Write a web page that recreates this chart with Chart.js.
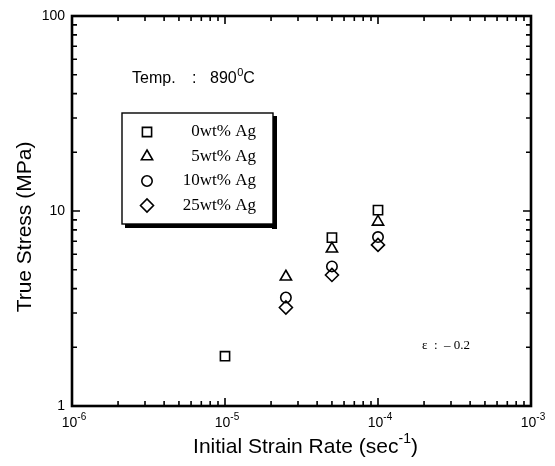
<!DOCTYPE html>
<html>
<head>
<meta charset="utf-8">
<script src="https://cdn.jsdelivr.net/npm/chart.js@4/dist/chart.umd.min.js"></script>
<style>
  html, body { margin: 0; padding: 0; background: #fff; }
  #wrap { width: 555px; height: 466px; }
</style>
</head>
<body>
<div id="wrap"><canvas id="c" width="555" height="466"></canvas></div>
<script>
// ---- data ----
const seriesLabels = ['0wt% Ag', '5wt% Ag', '10wt% Ag', '25wt% Ag'];
const rates0  = [1e-5, 5e-5, 1e-4];
const stress0 = [1.8, 7.3, 10.1];
const rates5  = [2.5e-5, 5e-5, 1e-4];
const stress5 = [4.6, 6.4, 8.8];
const rates10  = [2.5e-5, 5e-5, 1e-4];
const stress10 = [3.6, 5.2, 7.35];
const rates25  = [2.5e-5, 5e-5, 1e-4];
const stress25 = [3.2, 4.7, 6.7];

const xTickValues = [1e-6, 1e-5, 1e-4, 1e-3];
const xTickExponents = ['-6', '-5', '-4', '-3'];
const yTickValues = [1, 10, 100];
const yTickLabels = ['1', '10', '100'];

const toPts = (xs, ys) => xs.map((v, i) => ({ x: v, y: ys[i] }));

const styles = [
  { pointStyle: 'rect', radius: 6.5 },
  { pointStyle: 'triangle', radius: 6.5 },
  { pointStyle: 'circle', radius: 5.2 },
  { pointStyle: 'rectRot', radius: 6.5 }
];
const allData = [toPts(rates0, stress0), toPts(rates5, stress5), toPts(rates10, stress10), toPts(rates25, stress25)];

const datasets = allData.map((d, i) => ({
  label: seriesLabels[i],
  data: d,
  showLine: false,
  pointStyle: styles[i].pointStyle,
  pointRadius: styles[i].radius,
  pointHoverRadius: styles[i].radius,
  pointBorderWidth: 1.6,
  pointBorderColor: '#000',
  pointBackgroundColor: 'rgba(255,255,255,0)',
  borderColor: '#000',
  backgroundColor: 'rgba(255,255,255,0)'
}));

const SANS = '"Liberation Sans", Arial, sans-serif';
const SERIF = '"Liberation Serif", "Times New Roman", serif';

function drawSup(ctx, parts, x, y, align) {
  let total = 0;
  parts.forEach(p => { ctx.font = p.size + 'px ' + (p.font || SANS); p.w = ctx.measureText(p.t).width; total += p.w; });
  let cx = align === 'center' ? x - total / 2 : (align === 'right' ? x - total : x);
  ctx.textAlign = 'left';
  parts.forEach(p => {
    ctx.font = p.size + 'px ' + (p.font || SANS);
    ctx.fillText(p.t, cx, y + (p.dy || 0));
    cx += p.w;
  });
}

const inkPlugin = {
  id: 'ink',
  afterDatasetsDraw(chart) {
    const { ctx, chartArea: a, scales } = chart;
    const xs = scales.x, ys = scales.y;
    ctx.save();
    ctx.fillStyle = '#000';
    ctx.strokeStyle = '#000';

    // frame
    ctx.lineWidth = 2.6;
    ctx.strokeRect(a.left, a.top, a.right - a.left, a.bottom - a.top);

    // tick marks (inside, on all four sides)
    ctx.lineWidth = 1.6;
    const xMin = Math.log10(xs.min), xMax = Math.log10(xs.max);
    for (let e = Math.round(xMin); e <= Math.round(xMax); e++) {
      for (let m = 1; m <= 9; m++) {
        const v = m * Math.pow(10, e);
        if (v < xs.min * 0.999 || v > xs.max * 1.001) continue;
        const px = xs.getPixelForValue(v);
        const len = m === 1 ? 8 : 5;
        ctx.beginPath();
        ctx.moveTo(px, a.bottom); ctx.lineTo(px, a.bottom - len);
        ctx.moveTo(px, a.top); ctx.lineTo(px, a.top + len);
        ctx.stroke();
      }
    }
    const yMin = Math.log10(ys.min), yMax = Math.log10(ys.max);
    for (let e = Math.round(yMin); e <= Math.round(yMax); e++) {
      for (let m = 1; m <= 9; m++) {
        const v = m * Math.pow(10, e);
        if (v < ys.min * 0.999 || v > ys.max * 1.001) continue;
        const py = ys.getPixelForValue(v);
        const len = m === 1 ? 8 : 5;
        ctx.beginPath();
        ctx.moveTo(a.left, py); ctx.lineTo(a.left + len, py);
        ctx.moveTo(a.right, py); ctx.lineTo(a.right - len, py);
        ctx.stroke();
      }
    }

    // y tick labels
    ctx.textBaseline = 'middle';
    ctx.textAlign = 'right';
    ctx.font = '14px ' + SANS;
    yTickValues.forEach((v, i) => {
      const py = ys.getPixelForValue(v);
      ctx.fillText(yTickLabels[i], a.left - 7, py);
    });

    // x tick labels 10^e
    ctx.textBaseline = 'alphabetic';
    xTickValues.forEach((v, i) => {
      const px = xs.getPixelForValue(v);
      drawSup(ctx, [{ t: '10', size: 14 }, { t: xTickExponents[i], size: 10, dy: -7 }], px + 2, a.bottom + 21, 'center');
    });

    // axis titles
    drawSup(ctx, [{ t: 'Initial Strain Rate (sec', size: 21 }, { t: '-1', size: 14, dy: -10 }, { t: ')', size: 21 }],
      (a.left + a.right) / 2 + 4, a.bottom + 47, 'center');
    ctx.save();
    ctx.translate(31, (a.top + a.bottom) / 2 + 16);
    ctx.rotate(-Math.PI / 2);
    ctx.textAlign = 'center';
    ctx.font = '21px ' + SANS;
    ctx.fillText('True Stress (MPa)', 0, 0);
    ctx.restore();

    // annotation: temperature
    ctx.textAlign = 'left';
    ctx.font = '16px ' + SANS;
    ctx.fillText('Temp.', 132, 83);
    ctx.fillText(':', 192, 83);
    ctx.fillText('890', 210, 83);
    const w890 = ctx.measureText('890').width;
    ctx.font = '11px ' + SANS;
    ctx.fillText('0', 210 + w890 + 0.5, 76);
    const w0 = ctx.measureText('0').width;
    ctx.font = '16px ' + SANS;
    ctx.fillText('C', 210 + w890 + w0 + 0.5, 83);

    // annotation: strain
    ctx.font = '13px ' + SERIF;
    ctx.textAlign = 'left';
    ctx.fillText('\u03b5  :  \u2013 0.2', 422, 349);

    // legend box with drop shadow
    const bx = 122, by = 113, bw = 151, bh = 111;
    ctx.fillStyle = '#000';
    ctx.fillRect(bx + bw - 1, by + 3, 5, bh + 2);
    ctx.fillRect(bx + 3, by + bh - 1, bw + 1, 5);
    ctx.fillStyle = '#fff';
    ctx.fillRect(bx, by, bw, bh);
    ctx.lineWidth = 1.4;
    ctx.strokeStyle = '#000';
    ctx.strokeRect(bx, by, bw, bh);

    const rowY = [132, 156.5, 181, 205.5];
    chart.data.datasets.forEach((ds, i) => {
      ctx.fillStyle = 'rgba(255,255,255,0)';
      ctx.strokeStyle = '#000';
      ctx.lineWidth = 1.6;
      const opts = { pointStyle: ds.pointStyle, radius: ds.pointRadius, rotation: 0, borderWidth: 1.6 };
      if (Chart.helpers && Chart.helpers.drawPoint) {
        Chart.helpers.drawPoint(ctx, opts, 147, rowY[i]);
      }
      ctx.fillStyle = '#000';
      ctx.font = '17px ' + SERIF;
      ctx.textAlign = 'right';
      ctx.textBaseline = 'middle';
      ctx.fillText(ds.label, 256, rowY[i]);
    });
    ctx.restore();
  }
};

new Chart(document.getElementById('c'), {
  type: 'scatter',
  data: { datasets },
  options: {
    responsive: false,
    animation: false,
    devicePixelRatio: 1,
    layout: { padding: { left: 72, right: 24, top: 16, bottom: 60 } },
    plugins: { legend: { display: false }, tooltip: { enabled: false } },
    scales: {
      x: { type: 'logarithmic', min: 1e-6, max: 1e-3, display: false },
      y: { type: 'logarithmic', min: 1, max: 100, display: false }
    }
  },
  plugins: [inkPlugin]
});
</script>
</body>
</html>
